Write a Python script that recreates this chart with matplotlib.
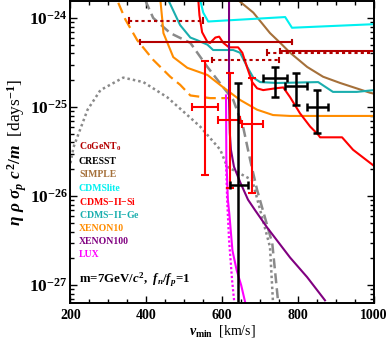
import numpy as np
import matplotlib
matplotlib.use("Agg")
import matplotlib.pyplot as plt

plt.rcParams['font.family'] = ['Liberation Serif', 'DejaVu Serif']
plt.rcParams['font.weight'] = 'bold'
plt.rcParams['mathtext.fontset'] = 'custom'
plt.rcParams['mathtext.rm'] = 'Liberation Serif:bold'
plt.rcParams['mathtext.it'] = 'Liberation Serif:bold:italic'
plt.rcParams['mathtext.bf'] = 'Liberation Serif:bold'
plt.rcParams['mathtext.fallback'] = 'stix'

# ---------------- data (v_min in km/s, log10 of eta*rho*sigma*c^2/m) ----------------
cdmslite_v = [542, 550, 563, 603, 766, 784, 1000]
cdmslite_L = [-23.80, -23.94, -24.04, -24.03, -23.99, -24.11, -24.07]

simple_v = [642, 682, 726, 753, 779, 824, 866, 911, 990, 1000]
simple_L = [-23.80, -23.94, -24.17, -24.28, -24.39, -24.55, -24.66, -24.73, -24.84, -24.85]

ge_v = [458, 489, 516, 534, 561, 576, 629, 647, 666, 682, 700, 745, 853, 892, 955, 1000]
ge_L = [-23.80, -24.08, -24.22, -24.25, -24.30, -24.36, -24.36, -24.39, -24.55, -24.67,
        -24.72, -24.73, -24.72, -24.83, -24.83, -24.81]

si_lim_v = [537, 540, 547, 561, 568, 582, 592, 603, 618, 642, 653, 666, 679, 692, 708,
            740, 761, 779, 805, 832, 853, 858, 916, 945, 1000]
si_lim_L = [-23.80, -23.97, -24.16, -24.27, -24.28, -24.22, -24.21, -24.28, -24.33, -24.33,
            -24.39, -24.56, -24.72, -24.79, -24.81, -24.79, -24.78, -24.89, -25.07, -25.22,
            -25.31, -25.34, -25.34, -25.48, -25.66]

x10_v = [437, 442, 445, 471, 508, 561, 603, 647, 692, 734, 779, 1000]
x10_L = [-23.80, -24.02, -24.17, -24.44, -24.56, -24.64, -24.78, -24.92, -25.03, -25.09,
         -25.10, -25.10]

x10d_v = [326, 345, 376, 418, 463, 489, 516, 568, 621]
x10d_L = [-23.83, -24.02, -24.25, -24.47, -24.66, -24.75, -24.87, -24.90, -24.90]

x100_v = [618, 618, 620, 623, 631, 648, 668, 687, 718, 779, 824, 871]
x100_L = [-23.80, -24.92, -25.29, -25.48, -25.67, -25.85, -26.04, -26.16, -26.35, -26.69,
          -26.91, -27.17]

lux_v = [610, 611, 615, 619, 627, 638, 650, 661]
lux_L = [-24.87, -25.60, -26.04, -26.21, -26.61, -26.83, -27.00, -27.20]

luxd_v = [610, 613, 618, 626, 632]
luxd_L = [-25.60, -26.04, -26.49, -26.94, -27.20]

gdot_v = [200, 208, 245, 279, 339, 392, 455, 508, 542, 595, 613, 679, 726, 734]
gdot_L = [-25.63, -25.45, -25.03, -24.81, -24.67, -24.72, -24.89, -25.09, -25.22, -25.48,
          -25.67, -25.82, -26.57, -27.20]

gdash_v = [397, 418, 463, 516, 561, 603, 629, 655, 674, 692, 732, 747]
gdash_L = [-23.80, -24.00, -24.17, -24.28, -24.55, -24.78, -24.92, -25.22, -25.60, -25.93,
           -26.53, -27.17]

# CoGeNT0 horizontal bars
cog_lo = [384, 353, 574, 718, 753]
cog_hi = [784, 550, 750, 1000, 1000]
cog_L = [-24.27, -24.03, -24.47, -24.39, -24.37]
cog_style = ['-', ':', ':', ':', '-']

# CDMS-II-Si crosses
si_v = [555, 621, 679]
si_vlo = [521, 590, 653]
si_vhi = [590, 647, 708]
si_L = [-25.00, -25.15, -25.19]
si_Ltop = [-24.48, -24.62, -24.67]
si_Lbot = [-25.76, -25.91, -25.96]

# CRESST crosses
cr_v = [642, 740, 795, 850]
cr_vlo = [621, 708, 766, 824]
cr_vhi = [668, 771, 824, 879]
cr_L = [-25.88, -24.67, -24.76, -25.00]
cr_Ltop = [-24.73, -24.55, -24.62, -24.81]
cr_Lbot = [-28.0, -24.89, -24.98, -25.29]

legend_labels = ['CoGeNT$_0$', 'CRESST', 'SIMPLE', 'CDMSlite', 'CDMS$-$II$-$Si',
                 'CDMS$-$II$-$Ge', 'XENON10', 'XENON100', 'LUX']

# ---------------- colours ----------------
c_cog = '#b40000'
c_cresst = 'black'
c_simple = '#a5703a'
c_lite = '#00f0f0'
c_si = '#ff0000'
c_ge = '#1aaeae'
c_x10 = '#ff8c00'
c_x100 = '#800080'
c_lux = '#ff00ff'
c_gray = '#8a8a8a'
legend_colors = [c_cog, c_cresst, c_simple, c_lite, c_si, c_ge, c_x10, c_x100, c_lux]

p = lambda L: 10.0 ** np.asarray(L)

fig = plt.figure(figsize=(3.88, 3.41), dpi=100)
ax = fig.add_axes([0.1817, 0.1114, 0.782, 0.8856])
ax.set_yscale('log')

lw = 1.5
ax.plot(gdot_v, p(gdot_L), color=c_gray, lw=1.8, ls=(0, (1, 1.2)))
ax.plot(gdash_v, p(gdash_L), color=c_gray, lw=1.8, ls=(0, (4, 2)))
ax.plot(x10d_v, p(x10d_L), color=c_x10, lw=1.6, ls=(0, (5, 2.5)))
ax.plot(x10_v, p(x10_L), color=c_x10, lw=lw)
ax.plot(simple_v, p(simple_L), color=c_simple, lw=lw)
ax.plot(cdmslite_v, p(cdmslite_L), color=c_lite, lw=lw)
ax.plot(ge_v, p(ge_L), color=c_ge, lw=lw)
ax.plot(si_lim_v, p(si_lim_L), color=c_si, lw=lw)
ax.plot(luxd_v, p(luxd_L), color=c_lux, lw=1.6, ls=(0, (1, 1)))
ax.plot(lux_v, p(lux_L), color=c_lux, lw=lw)
ax.plot(x100_v, p(x100_L), color=c_x100, lw=lw)

# CoGeNT bars
for lo, hi, L, st in zip(cog_lo, cog_hi, cog_L, cog_style):
    y = 10.0 ** L
    ax.plot([lo, hi], [y, y], color=c_cog, lw=1.5, ls=st if st == '-' else (0, (1.5, 1.5)))
    for xc in (lo, hi):
        if xc < 1000:
            ax.plot([xc, xc], [y * 10 ** -0.025, y * 10 ** 0.025], color=c_cog, lw=1.5)

# CDMS-II-Si crosses
for v, vl, vh, L, Lt, Lb in zip(si_v, si_vlo, si_vhi, si_L, si_Ltop, si_Lbot):
    y = 10.0 ** L
    ax.errorbar([v], [y], xerr=[[v - vl], [vh - v]],
                yerr=[[y - 10.0 ** Lb], [10.0 ** Lt - y]],
                fmt='none', ecolor=c_si, elinewidth=1.5, capsize=3, capthick=1.5)

# CRESST crosses
for v, vl, vh, L, Lt, Lb in zip(cr_v, cr_vlo, cr_vhi, cr_L, cr_Ltop, cr_Lbot):
    y = 10.0 ** L
    ax.errorbar([v], [y], xerr=[[v - vl], [vh - v]],
                yerr=[[y - 10.0 ** Lb], [10.0 ** Lt - y]],
                fmt='none', ecolor=c_cresst, elinewidth=1.8, capsize=3, capthick=1.8)

ax.set_xlim(200, 1000)
ax.set_ylim(10 ** -27.2, 10 ** -23.81)
ax.set_xticks([200, 400, 600, 800, 1000])
ax.set_xticks(np.arange(200, 1001, 50), minor=True)
ax.set_yticks([1e-27, 1e-26, 1e-25, 1e-24])
ax.tick_params(which='both', direction='in', top=True, right=True, width=1.0)
ax.tick_params(which='major', length=5)
ax.tick_params(which='minor', length=3)
ax.tick_params(axis='x', labelsize=10, pad=4)
ax.tick_params(axis='y', labelsize=12.5, pad=2)
for s in ax.spines.values():
    s.set_linewidth(1.4)

ax.set_xlabel(r'$v_{\rm min}$  [km/s]', fontsize=10, labelpad=1)
ax.set_ylabel(r'$\eta\ \rho\ \sigma_p\ c^2 / m$  [days$^{-1}$]', fontsize=12.5, labelpad=0)

ys = [147, 161, 174, 188, 201, 214, 228, 241, 254]
for lab, col, ypx in zip(legend_labels, legend_colors, ys):
    ax.text(0.028, (303 - ypx) / 302, lab, color=col, fontsize=7, transform=ax.transAxes,
            va='center', ha='left')
ax.text(0.028, (303 - 280) / 302, r'm=7GeV/$c^2$,  $f_n/f_p$=1', color='black', fontsize=9.3,
        transform=ax.transAxes, va='center', ha='left')

fig.savefig('out.png', dpi=100)
